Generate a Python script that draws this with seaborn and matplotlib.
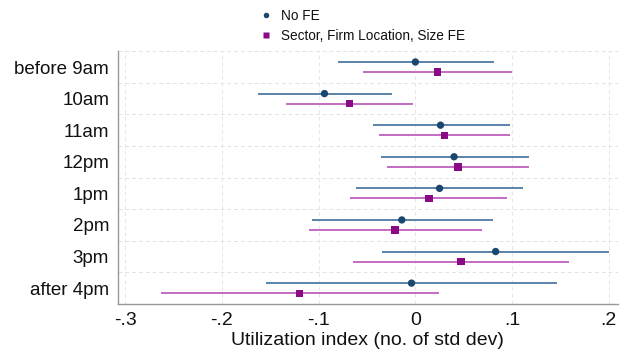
import numpy as np
import pandas as pd
import matplotlib
matplotlib.use("Agg")
import matplotlib.pyplot as plt
import seaborn as sns

categories = ["before 9am", "10am", "11am", "12pm", "1pm", "2pm", "3pm", "after 4pm"]

nofe_est = [0.000, -0.094, 0.026, 0.040, 0.025, -0.014, 0.083, -0.004]
nofe_lo = [-0.080, -0.163, -0.044, -0.036, -0.061, -0.107, -0.034, -0.154]
nofe_hi = [0.081, -0.024, 0.098, 0.117, 0.111, 0.080, 0.200, 0.146]

fe_est = [0.023, -0.068, 0.030, 0.044, 0.014, -0.021, 0.047, -0.120]
fe_lo = [-0.054, -0.134, -0.038, -0.029, -0.068, -0.110, -0.064, -0.263]
fe_hi = [0.100, -0.002, 0.098, 0.117, 0.095, 0.069, 0.159, 0.024]

xticks = [-0.3, -0.2, -0.1, 0.0, 0.1, 0.2]
xticklabels = ["-.3", "-.2", "-.1", "0", ".1", ".2"]
series_names = ["No FE", "Sector, Firm Location, Size FE"]

sns.set_style("white")
plt.rcParams["font.family"] = ["Liberation Sans", "DejaVu Sans"]

pos = np.arange(len(categories))
off = 0.16
df = pd.concat([
    pd.DataFrame({"y": pos - off, "est": nofe_est, "lo": nofe_lo, "hi": nofe_hi, "series": series_names[0]}),
    pd.DataFrame({"y": pos + off, "est": fe_est, "lo": fe_lo, "hi": fe_hi, "series": series_names[1]}),
])

mk_col = {series_names[0]: "#1a476f", series_names[1]: "#8a0a86"}
ln_col = {series_names[0]: "#5a82aa", series_names[1]: "#c36ac3"}
markers = {series_names[0]: "o", series_names[1]: "s"}

fig = plt.figure(figsize=(6.25, 3.61), dpi=100)
ax = fig.add_axes([0.188, 0.158, 0.800, 0.700])

for s in series_names:
    d = df[df.series == s]
    ax.hlines(d["y"], d["lo"], d["hi"], color=ln_col[s], lw=1.4, zorder=2)

sns.scatterplot(data=df, x="est", y="y", hue="series", style="series",
                palette=mk_col, markers=markers, s=28, edgecolor="none",
                ax=ax, zorder=3, legend=True)

ax.set_xlim(-0.308, 0.209)
ax.set_ylim(len(categories) - 0.5, -0.5)
ax.set_yticks(pos)
ax.set_yticklabels(categories, fontsize=13.5, color="#111111")
ax.set_xticks(xticks)
ax.set_xticklabels(xticklabels, fontsize=14, color="#111111")
ax.set_yticks(np.arange(len(categories) + 1) - 0.5, minor=True)
ax.tick_params(axis="y", which="minor", length=0)
ax.tick_params(axis="both", which="major", direction="out", length=4, width=0.8,
               color="#888888", pad=2)
ax.grid(True, axis="x", which="major", color="#e6e6e6", ls=(0, (4, 3)), lw=0.7)
ax.grid(True, axis="y", which="minor", color="#e2e2e2", ls=(0, (4, 3)), lw=0.7)
ax.set_axisbelow(True)
for sp in ["top", "right"]:
    ax.spines[sp].set_visible(False)
for sp in ["left", "bottom"]:
    ax.spines[sp].set_color("#999999")
    ax.spines[sp].set_linewidth(1.0)
ax.set_ylabel("")
ax.set_xlabel("Utilization index (no. of std dev)", fontsize=14, color="#111111", labelpad=2)

h, l = ax.get_legend_handles_labels()
leg = ax.legend(h, l, loc="lower left", bbox_to_anchor=(0.254, 1.0), frameon=False,
                fontsize=9.8, ncol=1, handletextpad=0.1, labelspacing=0.45,
                markerscale=0.75, borderaxespad=0.2)
for t in leg.get_texts():
    t.set_color("#111111")

fig.savefig("out.png", dpi=100, facecolor="white")
